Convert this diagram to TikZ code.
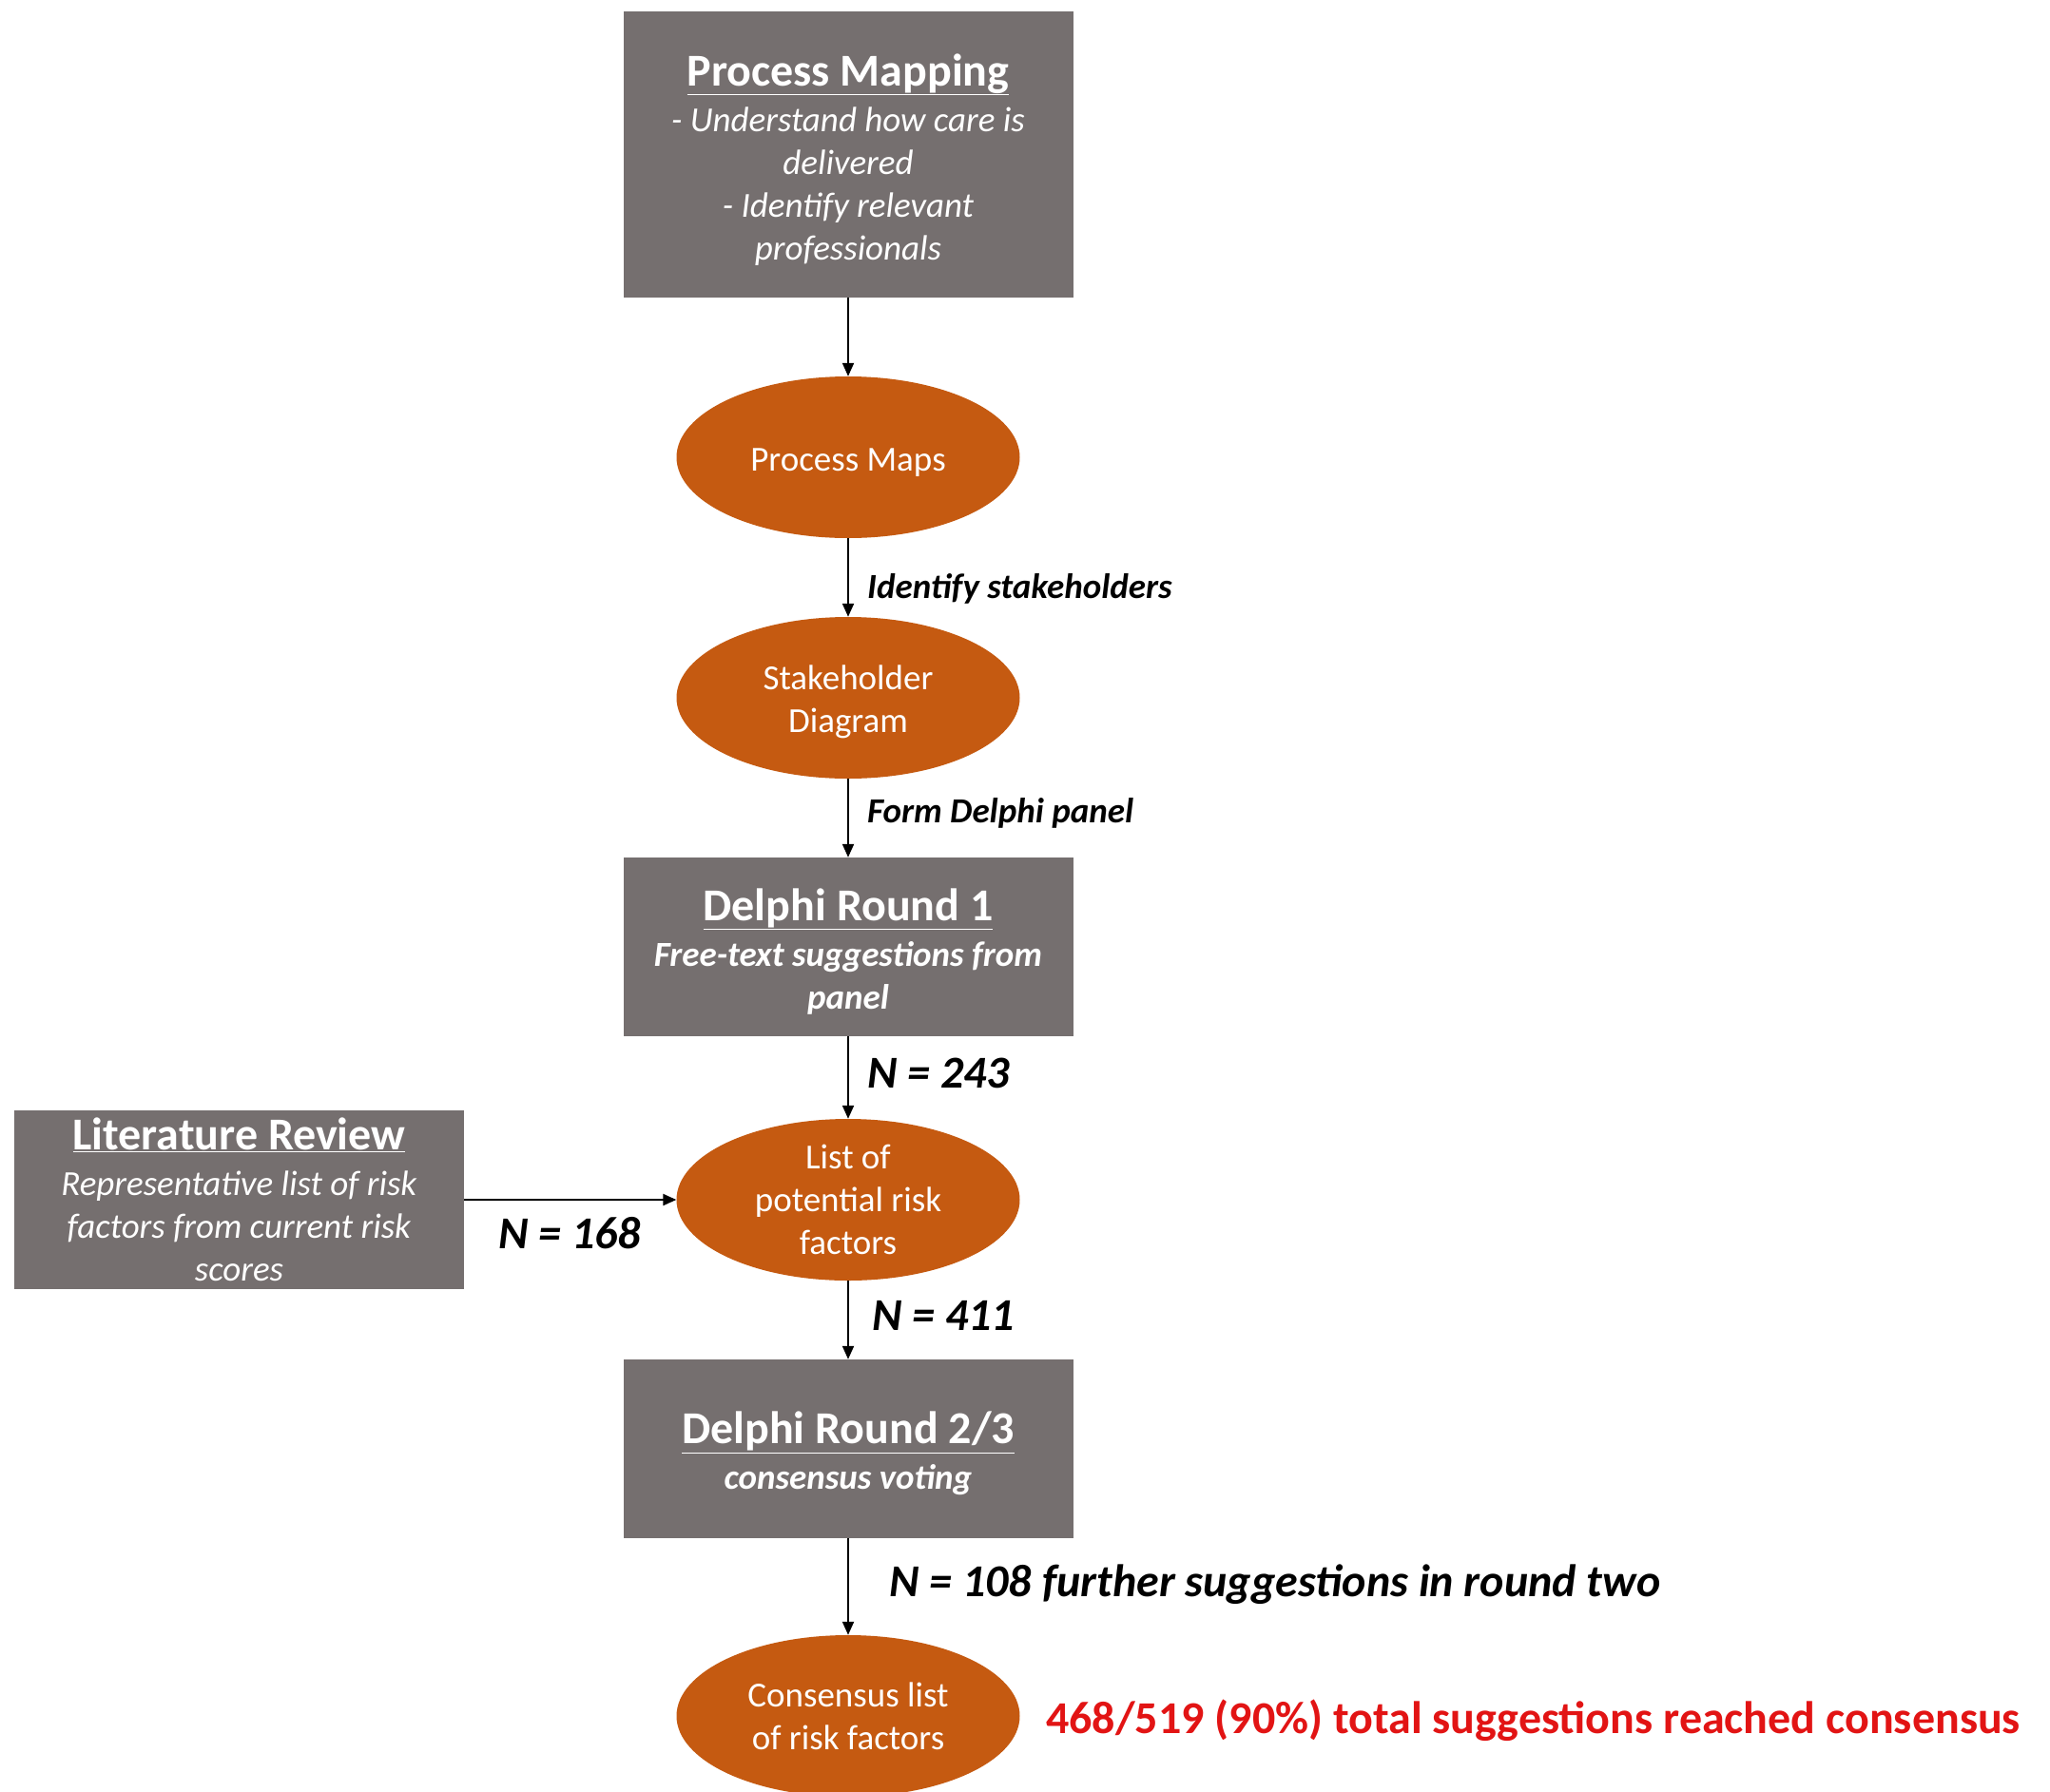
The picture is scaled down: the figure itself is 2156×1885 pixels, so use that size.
\documentclass[tikz,border=0pt]{standalone}
\usepackage{fontspec}
\setmainfont{Carlito}
\usetikzlibrary{shapes.geometric,arrows.meta}
\definecolor{boxgray}{RGB}{117,111,111}
\definecolor{ovalorange}{RGB}{197,90,17}
\definecolor{redtxt}{RGB}{226,20,20}
\newcommand\bodyfont{\fontsize{37}{45}\selectfont}
\newcommand\titlefont{\fontsize{48}{52}\selectfont\bfseries}
\newcommand\nfont{\fontsize{48}{58}\selectfont\bfseries\itshape}
\newcommand\tstrut{\rule{0pt}{44pt}}
\newcommand\ostrut{\rule{0pt}{34pt}}
\tikzset{
  graybox/.style={rectangle, fill=boxgray, text=white, minimum width=473pt, minimum height=188pt, inner sep=0pt, align=center, font=\bodyfont},
  oval/.style={ellipse, fill=ovalorange, text=white, minimum width=361pt, minimum height=170pt, inner sep=0pt, align=center, font=\bodyfont},
  lbl/.style={anchor=west, inner sep=0pt, font=\bodyfont\bfseries\itshape},
  nlbl/.style={anchor=west, inner sep=0pt, font=\nfont},
  arr/.style={-{Triangle[length=14pt,width=12pt]}, line width=2pt}
}
\begin{document}
\begin{tikzpicture}[x=1pt,y=-1pt]
\clip (0,0) rectangle (2156,1885);
\fill[white] (0,0) rectangle (2156,1885);
\node[graybox, minimum height=301pt] (pm) at (892,162.5) {\tstrut{\titlefont\underline{Process Mapping}}\\[3pt] \textit{- Understand how care is}\\ \textit{delivered}\\ \textit{- Identify relevant}\\ \textit{professionals}};
\node[oval] (maps) at (892,481) {\ostrut Process Maps};
\node[oval] (stake) at (892,734) {\ostrut Stakeholder\\Diagram};
\node[graybox] (d1) at (892,996) {\tstrut{\titlefont\underline{Delphi Round 1}}\\[3pt] \textbf{\textit{Free-text suggestions from}}\\ \textbf{\textit{panel}}};
\node[oval] (list) at (892,1262) {List of\\potential risk\\factors};
\node[graybox] (lit) at (251.5,1262) {{\titlefont\underline{Literature Review}}\\[3pt] \textit{Representative list of risk}\\ \textit{factors from current risk}\\ \textit{scores}};
\node[graybox] (d2) at (892,1524) {\tstrut{\titlefont\underline{Delphi Round 2/3}}\\[3pt] \textbf{\textit{consensus voting}}};
\node[oval] (cons) at (892,1805) {Consensus list\\of risk factors};

\draw[arr] (pm.south) -- (maps.north);
\draw[arr] (maps.south) -- (stake.north);
\draw[arr] (stake.south) -- (d1.north);
\draw[arr] (d1.south) -- (list.north);
\draw[arr] (lit.east) -- (list.west);
\draw[arr] (list.south) -- (d2.north);
\draw[arr] (d2.south) -- (cons.north);

\node[lbl] (l1) at (912,619) {Identify stakeholders};
\node[lbl] (l2) at (912,855) {Form Delphi panel};
\node[nlbl] (n243) at (912,1129) {N = 243};
\node[nlbl] (n168) at (524,1297) {N = 168};
\node[nlbl] (n411) at (917,1384) {N = 411};
\node[nlbl] (n108) at (935,1667) {N = 108 further suggestions in round two};
\node[anchor=west, inner sep=0pt, text=redtxt, font=\fontsize{48}{58}\selectfont\bfseries] (res) at (1100,1810) {468/519 (90\%) total suggestions reached consensus};
\end{tikzpicture}
\end{document}
